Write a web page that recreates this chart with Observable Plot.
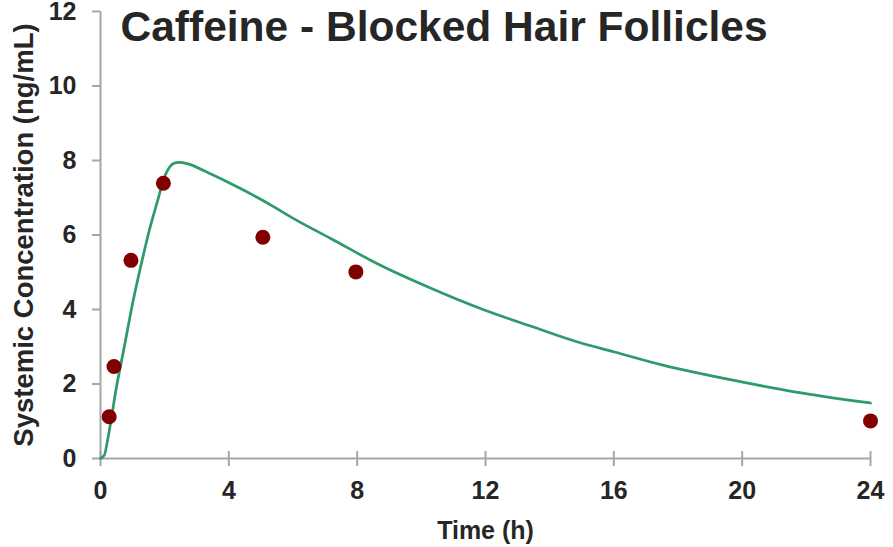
<!DOCTYPE html>
<html>
<head>
<meta charset="utf-8">
<script src="https://cdn.jsdelivr.net/npm/d3@7"></script>
<script src="https://cdn.jsdelivr.net/npm/@observablehq/plot@0.6"></script>
<style>
  html, body { margin: 0; padding: 0; background: #fff; }
  #chart { position: relative; width: 893px; height: 547px; }
  #title {
    position: absolute; left: 120.5px; top: 5.7px; margin: 0;
    font: bold 42.5px/1 "Liberation Sans", Arial, sans-serif;
    color: #262626; white-space: nowrap;
  }
</style>
</head>
<body>
<div id="chart">
  <h1 id="title">Caffeine - Blocked Hair Follicles</h1>
</div>
<script>
// Observed plasma concentrations
const obsTime = [0.27, 0.42, 0.95, 1.96, 5.06, 7.96, 24.0];
const obsConc = [1.12, 2.47, 5.32, 7.39, 5.94, 5.01, 1.01];

// Model-predicted profile
const predTime = [0, 0.12, 0.22, 0.33, 0.48, 0.74, 1.0, 1.26, 1.52, 1.78, 1.99, 2.15, 2.30, 2.46, 2.72, 3.34, 4.38, 5.42, 5.94, 7.19, 8.74, 10.30, 11.86, 13.42, 14.98, 16.02, 17.47, 20.02, 21.63, 24.0];
const predConc = [0, 0.09, 0.49, 1.03, 1.83, 2.99, 4.16, 5.18, 6.12, 6.92, 7.55, 7.82, 7.93, 7.95, 7.91, 7.68, 7.24, 6.75, 6.48, 5.90, 5.18, 4.57, 4.02, 3.55, 3.10, 2.86, 2.52, 2.05, 1.79, 1.49];

const xTicks = [0, 4, 8, 12, 16, 20, 24];
const yTicks = [0, 2, 4, 6, 8, 10, 12];

const xLabel = "Time (h)";
const yLabel = "Systemic Concentration (ng/mL)";

const observed = obsTime.map((t, i) => ({time: t, conc: obsConc[i]}));
const predicted = predTime.map((t, i) => ({time: t, conc: predConc[i]}));

const axisGray = "#a6a6a6";
const textDark = "#262626";

const chart = Plot.plot({
  width: 893,
  height: 547,
  marginLeft: 100,
  marginRight: 23,
  marginTop: 11,
  marginBottom: 89,
  style: {fontFamily: "'Liberation Sans', Arial, sans-serif", background: "white"},
  x: {domain: [0, 24]},
  y: {domain: [0, 12]},
  marks: [
    Plot.ruleY([0], {stroke: axisGray, strokeWidth: 2}),
    Plot.ruleX([0], {stroke: axisGray, strokeWidth: 2}),
    // tick marks crossing the time axis
    Plot.axisX({ticks: xTicks, tickSize: 15, dy: -7, fill: "none", label: null, stroke: axisGray, strokeWidth: 2}),
    Plot.axisX({
      ticks: xTicks, tickSize: 0, tickPadding: 23,
      fill: textDark, fontSize: 25, fontWeight: "bold",
      label: xLabel, labelAnchor: "center", labelOffset: 80, labelArrow: "none"
    }),
    Plot.axisY({
      ticks: yTicks, tickSize: 8, tickPadding: 16,
      stroke: axisGray, strokeWidth: 2,
      fill: textDark, fontSize: 25, fontWeight: "bold",
      label: null
    }),
    // rotated y-axis title
    Plot.text([yLabel], {
      text: d => d, frameAnchor: "left", rotate: -90, dx: -87,
      textAnchor: "middle", lineAnchor: "top",
      fontSize: 27.5, fontWeight: "bold", fill: textDark
    }),
    Plot.line(predicted, {x: "time", y: "conc", stroke: "#2e9b6b", strokeWidth: 2.75, curve: "monotone-x"}),
    Plot.dot(observed, {x: "time", y: "conc", r: 7.5, fill: "#800000", stroke: "none"})
  ]
});

document.getElementById("chart").appendChild(chart);
</script>
</body>
</html>
